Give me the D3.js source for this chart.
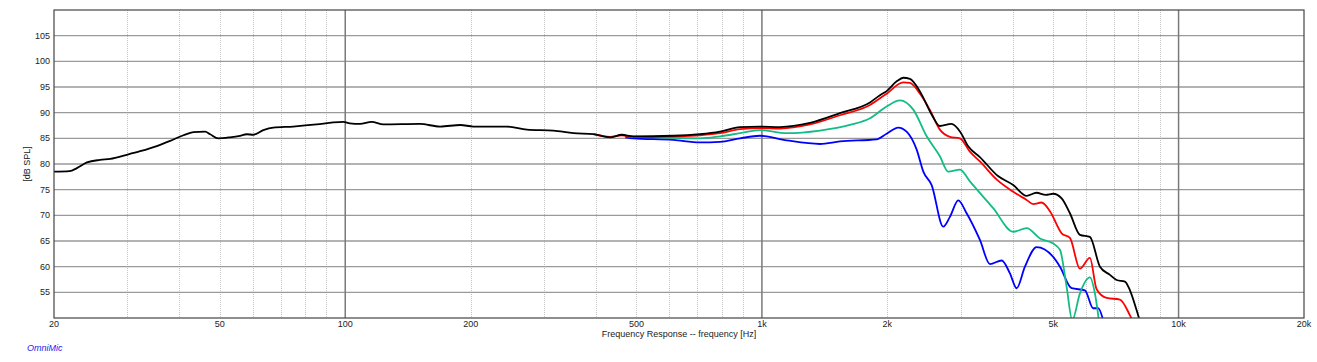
<!DOCTYPE html>
<html lang="en">
  <head>
    <meta charset="UTF-8" />
    <title>Frequency Response</title>
    <script src="https://d3js.org/d3.v7.min.js"></script>
    <style>
      body {
        margin: 0;
        padding: 0;
        background: #fff;
        font-family: "Liberation Sans", Arial, sans-serif;
      }
      svg {
        display: block;
      }
      .tick-label {
        font-size: 9px;
        fill: #222;
      }
    </style>
  </head>
  <body>
    <svg width="1317" height="362"></svg>
    <script>
      // tick values
      const xTicks = [20, 50, 100, 200, 500, 1000, 2000, 5000, 10000, 20000];
      const xTickLabels = ["20", "50", "100", "200", "500", "1k", "2k", "5k", "10k", "20k"];
      const yTicks = [55, 60, 65, 70, 75, 80, 85, 90, 95, 100, 105];

      // measured curves, [Hz, dB SPL]
      const blackCurve = [
        [20, 78.5], [21.8, 78.6], [22.7, 79.2], [24, 80.3], [25.8, 80.8], [27.3, 81.0],
        [29.9, 81.8], [32.2, 82.5], [35.3, 83.5], [38, 84.5], [40.9, 85.6], [43.2, 86.2],
        [46.1, 86.3], [47.4, 85.8], [49.6, 85.0], [52.9, 85.2], [55.9, 85.5], [58, 85.8],
        [60.2, 85.7], [63.6, 86.6], [67.2, 87.1], [75, 87.3], [85.4, 87.7], [93.6, 88.1],
        [98.9, 88.2], [102.6, 87.9], [108.5, 87.8], [115.7, 88.2], [123.4, 87.7], [151, 87.8],
        [169, 87.3], [189, 87.6], [203, 87.3], [244, 87.3], [273, 86.7], [316, 86.5],
        [353, 86.0], [394, 85.8], [432, 85.2], [461, 85.7], [491, 85.4], [613, 85.5],
        [710, 85.8], [793, 86.3], [886, 87.2], [989, 87.3], [1105, 87.2], [1304, 88.0],
        [1539, 89.9], [1817, 92.0], [1920, 93.4], [1992, 94.2], [2106, 96.1], [2184, 96.8],
        [2266, 96.6], [2400, 94.0], [2560, 89.5], [2674, 87.4], [2850, 87.8], [2990, 86.3],
        [3130, 83.4], [3340, 81.3], [3680, 77.7], [4010, 75.9], [4320, 73.8], [4560, 74.4],
        [4800, 74.0], [5000, 74.2], [5240, 73.3], [5486, 70.4], [5798, 66.2], [6126, 65.8],
        [6476, 60.0], [6844, 58.4], [7102, 57.4], [7434, 57.1], [7644, 55.4], [7932, 51.5],
        [8100, 49.0]
      ];
      const redCurve = [
        [394, 85.8], [432, 85.3], [461, 85.6], [491, 85.3], [613, 85.4], [710, 85.6],
        [793, 86.0], [886, 86.8], [989, 87.0], [1105, 86.9], [1304, 87.7], [1539, 89.5],
        [1817, 91.5], [1992, 93.7], [2184, 95.9], [2266, 95.8], [2396, 93.7], [2532, 90.5],
        [2674, 86.7], [2826, 85.3], [2988, 85.0], [3156, 82.4], [3336, 80.5], [3680, 76.8],
        [4010, 74.6], [4318, 73.0], [4480, 72.2], [4690, 72.5], [4912, 70.8], [5240, 66.5],
        [5486, 65.6], [5798, 59.6], [6126, 61.7], [6358, 55.6], [6720, 53.9], [7232, 53.6],
        [7644, 50.5], [7800, 49.0]
      ];
      const greenCurve = [
        [470, 85.4], [613, 85.1], [710, 85.0], [793, 85.4], [886, 86.0], [989, 86.6],
        [1147, 86.0], [1378, 86.5], [1627, 87.6], [1817, 88.9], [1992, 91.2], [2144, 92.4],
        [2308, 90.6], [2486, 85.4], [2674, 81.5], [2800, 78.5], [2988, 78.9], [3156, 76.6],
        [3590, 71.4], [4010, 66.8], [4318, 67.5], [4648, 65.5], [5002, 64.5], [5192, 63.3],
        [5386, 56.1], [5556, 49.6], [5798, 54.8], [6126, 57.9], [6298, 54.8], [6450, 49.0]
      ];
      const blueCurve = [
        [470, 85.2], [491, 85.0], [613, 84.7], [710, 84.2], [793, 84.3], [886, 85.0],
        [989, 85.5], [1147, 84.6], [1378, 83.9], [1539, 84.4], [1884, 84.8], [1992, 85.9],
        [2124, 87.1], [2225, 86.3], [2352, 82.8], [2440, 78.5], [2555, 75.9], [2724, 67.8],
        [2826, 69.7], [2960, 72.9], [3100, 70.4], [3336, 65.2], [3526, 60.5], [3762, 61.2],
        [3938, 58.7], [4086, 55.8], [4278, 60.0], [4564, 63.8], [5002, 61.9], [5192, 60.0],
        [5538, 55.8], [5960, 55.4], [6238, 51.9], [6414, 51.9], [6620, 49.0]
      ];

      const svg = d3.select("svg");
      const plotLeft = 54, plotRight = 1304, plotTop = 10, plotBottom = 318;

      const x = d3.scaleLog().domain([20, 20000]).range([plotLeft, plotRight]);
      const y = d3.scaleLinear().domain([50, 110]).range([plotBottom, plotTop]);

      // minor frequency grid (dotted)
      const minor = [];
      [10, 100, 1000].forEach((d) => {
        for (let m = 2; m <= 9; m++) minor.push(d * m);
      });
      const minorFreqs = minor.filter((f) => f > 20 && f < 10000);

      svg.append("g")
        .selectAll("line")
        .data(minorFreqs)
        .join("line")
        .attr("x1", (d) => Math.round(x(d)) + 0.5)
        .attr("x2", (d) => Math.round(x(d)) + 0.5)
        .attr("y1", plotTop)
        .attr("y2", plotBottom)
        .attr("stroke", "#c4c4c4")
        .attr("stroke-dasharray", "1,1");

      // horizontal grid
      svg.append("g")
        .selectAll("line")
        .data(yTicks)
        .join("line")
        .attr("x1", plotLeft)
        .attr("x2", plotRight)
        .attr("y1", (d) => y(d))
        .attr("y2", (d) => y(d))
        .attr("stroke", "#9a9a9a")
        .attr("stroke-width", 1.4);

      // decade lines
      svg.append("g")
        .selectAll("line")
        .data([100, 1000, 10000])
        .join("line")
        .attr("x1", (d) => x(d))
        .attr("x2", (d) => x(d))
        .attr("y1", plotTop)
        .attr("y2", plotBottom)
        .attr("stroke", "#7a7a7a")
        .attr("stroke-width", 1.5);

      // curves
      svg.append("clipPath")
        .attr("id", "plot-clip")
        .append("rect")
        .attr("x", plotLeft)
        .attr("y", plotTop)
        .attr("width", plotRight - plotLeft)
        .attr("height", plotBottom - plotTop);

      const line = d3.line()
        .x((d) => x(d[0]))
        .y((d) => y(d[1]))
        .curve(d3.curveMonotoneX);

      const series = [
        { data: blueCurve, color: "#0000ff" },
        { data: greenCurve, color: "#12bd85" },
        { data: redCurve, color: "#ff0000" },
        { data: blackCurve, color: "#000000" }
      ];

      svg.append("g")
        .attr("clip-path", "url(#plot-clip)")
        .selectAll("path")
        .data(series)
        .join("path")
        .attr("d", (d) => line(d.data))
        .attr("fill", "none")
        .attr("stroke", (d) => d.color)
        .attr("stroke-width", 1.8)
        .attr("stroke-linejoin", "round");

      // frame
      svg.append("rect")
        .attr("x", plotLeft)
        .attr("y", plotTop)
        .attr("width", plotRight - plotLeft)
        .attr("height", plotBottom - plotTop)
        .attr("fill", "none")
        .attr("stroke", "#444")
        .attr("stroke-width", 1.2);

      // tick labels
      svg.append("g")
        .selectAll("text")
        .data(yTicks)
        .join("text")
        .attr("class", "tick-label")
        .attr("x", plotLeft - 4)
        .attr("y", (d) => y(d))
        .attr("dy", "0.35em")
        .attr("text-anchor", "end")
        .text((d) => d);

      svg.append("g")
        .selectAll("text")
        .data(xTicks)
        .join("text")
        .attr("class", "tick-label")
        .attr("x", (d) => x(d))
        .attr("y", plotBottom + 9)
        .attr("text-anchor", "middle")
        .text((d, i) => xTickLabels[i]);

      // axis titles
      svg.append("text")
        .attr("class", "tick-label")
        .attr("x", (plotLeft + plotRight) / 2)
        .attr("y", plotBottom + 19)
        .attr("text-anchor", "middle")
        .text("Frequency Response -- frequency [Hz]");

      svg.append("text")
        .attr("class", "tick-label")
        .attr("transform", `translate(30,${(plotTop + plotBottom) / 2}) rotate(-90)`)
        .attr("text-anchor", "middle")
        .text("[dB SPL]");

      svg.append("text")
        .attr("x", 27)
        .attr("y", 351)
        .attr("font-size", 9)
        .attr("font-style", "italic")
        .attr("fill", "#2222ee")
        .text("OmniMic");
    </script>
  </body>
</html>
